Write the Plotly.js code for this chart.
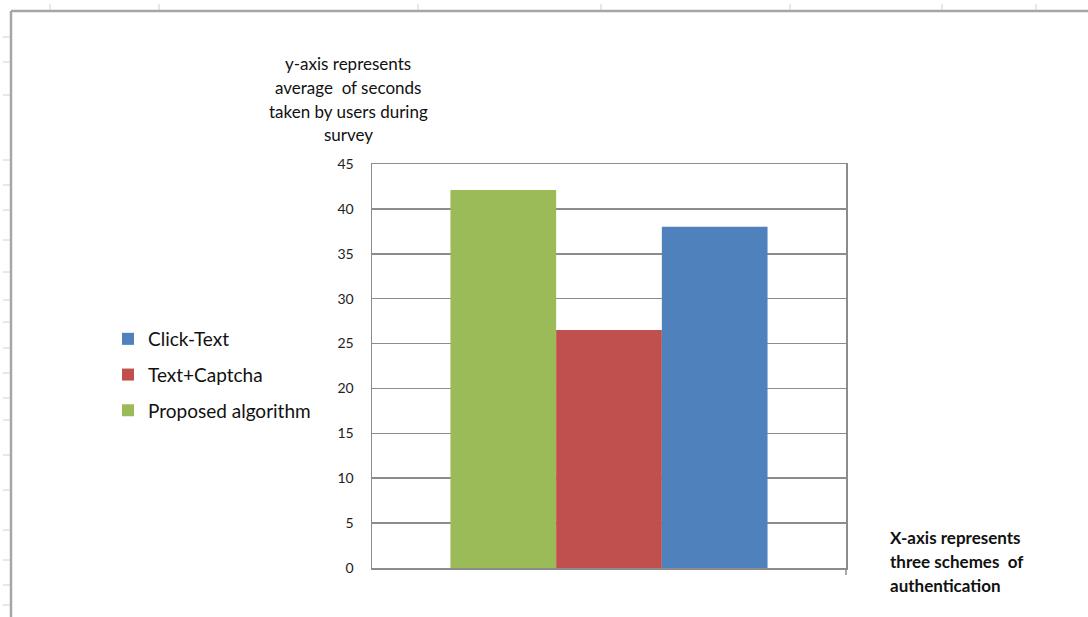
<!DOCTYPE html>
<html>
<head>
<meta charset="utf-8">
<script src="https://cdn.plot.ly/plotly-3.0.1.min.js"></script>
<style>html,body{margin:0;padding:0;background:#fff}#chart{width:1088px;height:617px}</style>
</head>
<body>
<div id="chart"></div>
<script>
// ---- data ----
const category = [''];
const seriesNames = ['Proposed algorithm', 'Text+Captcha', 'Click-Text'];
const proposedValues = [42.1];
const captchaValues = [26.5];
const clickTextValues = [38.0];
const seriesColors = ['#9BBB59', '#C0504D', '#4F81BD'];
const legendRanks = [3, 2, 1];
const yTickValues = [0, 5, 10, 15, 20, 25, 30, 35, 40, 45];
const yTitleLines = ['y-axis represents', 'average  of seconds', 'taken by users during', 'survey'];
const xTitleLines = ['X-axis represents', 'three schemes  of', 'authentication'];

// ---- layout geometry (pixels) ----
const W = 1088, H = 617;
const L = 372, R = 846, T = 164, B = 568;
const px = x => (x - L) / (R - L);
const py = y => (B - y) / (B - T);

const allValues = [proposedValues, captchaValues, clickTextValues];
const traces = allValues.map((vals, i) => ({
  type: 'bar',
  x: category,
  y: vals,
  name: seriesNames[i],
  legendrank: legendRanks[i],
  legendgroup: 'g' + legendRanks[i],
  marker: {color: seriesColors[i], line: {width: 0}},
  hoverinfo: 'y+name'
}));

const font = 'Lato, "Open Sans", "Liberation Sans", sans-serif';
const annotations = [];
yTitleLines.forEach((t, i) => annotations.push({
  text: t, xref: 'paper', yref: 'paper', x: px(348), y: py(63 + i * 24),
  xanchor: 'center', yanchor: 'middle', showarrow: false,
  font: {family: font, size: 17, color: '#111111'}
}));
xTitleLines.forEach((t, i) => annotations.push({
  text: '<b>' + t + '</b>', xref: 'paper', yref: 'paper', x: px(888), y: py(537 + i * 24),
  xanchor: 'left', yanchor: 'middle', showarrow: false,
  font: {family: font, size: 17, color: '#111111'}
}));

const shapes = [];
// chart outer frame
shapes.push({type: 'line', xref: 'paper', yref: 'paper', x0: px(11), x1: px(1090), y0: py(11), y1: py(11), line: {color: '#a6a6a6', width: 2.5}});
shapes.push({type: 'line', xref: 'paper', yref: 'paper', x0: px(11), x1: px(11), y0: py(11), y1: py(620), line: {color: '#a6a6a6', width: 2.5}});
// spreadsheet header ticks
[50, 159, 418, 601, 790, 942, 1036].forEach(x => shapes.push({
  type: 'line', xref: 'paper', yref: 'paper', x0: px(x), x1: px(x), y0: py(4), y1: py(10), line: {color: '#c8d0e0', width: 1}
}));
[37, 62, 95, 160, 185, 210, 240, 272, 300, 322, 348, 373, 398, 420, 455, 490, 530, 560, 585, 605].forEach(y => shapes.push({
  type: 'line', xref: 'paper', yref: 'paper', x0: px(3), x1: px(10), y0: py(y), y1: py(y), line: {color: '#c8d0e0', width: 1}
}));
// category tick at right boundary
shapes.push({type: 'line', xref: 'paper', yref: 'paper', x0: 1, x1: 1, y0: 0, y1: py(575), line: {color: '#8c8c8c', width: 1.5}});

const layout = {
  width: W, height: H,
  margin: {l: L, r: W - R, t: T, b: H - B, pad: 0},
  paper_bgcolor: '#ffffff', plot_bgcolor: '#ffffff',
  barmode: 'group', bargap: 0.331, bargroupgap: 0,
  showlegend: true,
  legend: {
    x: px(108), y: py(320), xanchor: 'left', yanchor: 'top',
    traceorder: 'grouped', tracegroupgap: 8,
    font: {family: font, size: 19, color: '#111111'},
    bgcolor: 'rgba(0,0,0,0)', itemwidth: 30
  },
  xaxis: {
    type: 'category', range: [-0.5, 0.5], showticklabels: false, ticks: '',
    showline: true, mirror: true, linecolor: '#8c8c8c', linewidth: 1.5, showgrid: false, zeroline: false,
    fixedrange: true
  },
  yaxis: {
    range: [0, 45], tickvals: yTickValues, ticktext: yTickValues.map(String),
    showgrid: true, gridcolor: '#8c8c8c', gridwidth: 1.5,
    showline: true, mirror: true, linecolor: '#8c8c8c', linewidth: 1.5, zeroline: false,
    ticks: '', ticklabelstandoff: 14,
    tickfont: {family: font, size: 14, color: '#222222'},
    fixedrange: true
  },
  annotations: annotations,
  shapes: shapes
};

Plotly.newPlot('chart', traces, layout, {displayModeBar: false, staticPlot: true});
</script>
</body>
</html>
